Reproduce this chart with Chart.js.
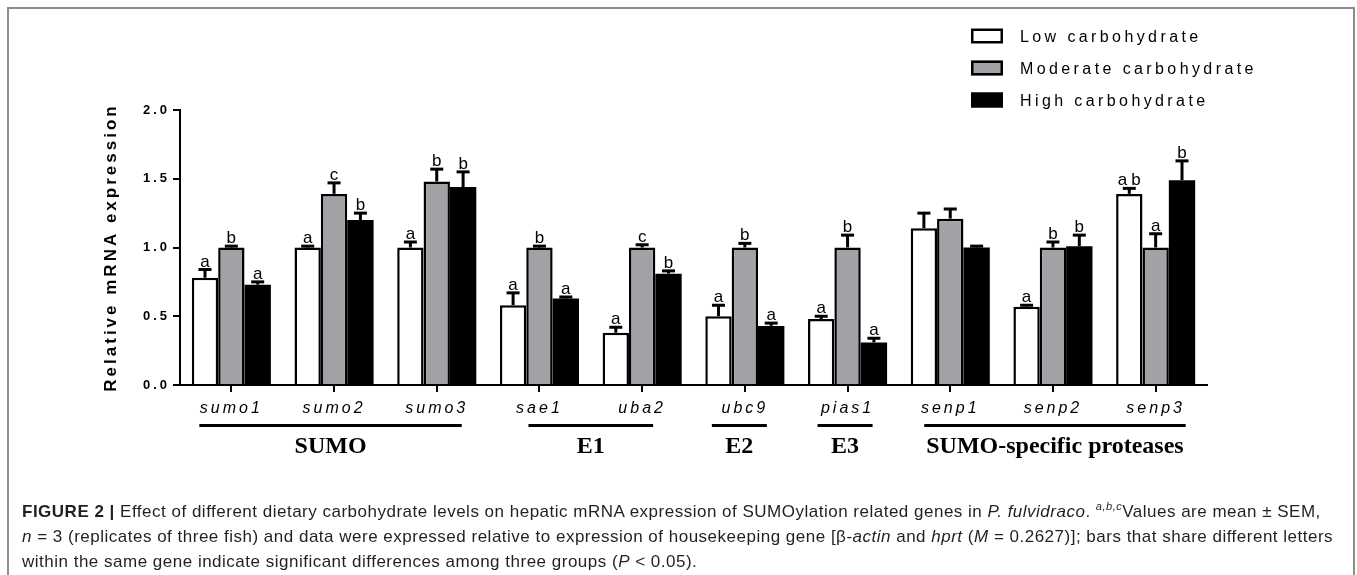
<!DOCTYPE html>
<html>
<head>
<meta charset="utf-8">
<script src="https://cdn.jsdelivr.net/npm/chart.js@4.4.1/dist/chart.umd.min.js"></script>
<style>
html, body { margin: 0; padding: 0; background: #fff; }
#wrap { position: relative; width: 1357px; height: 575px; overflow: hidden; }
#frame { position: absolute; left: 7px; top: 7px; width: 1348px; height: 620px; border: 2px solid #8c8c8c; box-sizing: border-box; }
#myChart { position: absolute; left: 0; top: 0; }
#legenda { position: absolute; left: 22px; top: 494px; font-family: "Liberation Sans", Arial, sans-serif; font-size: 17px; letter-spacing: 0.5px; line-height: 25px; color: #231f20; white-space: nowrap; }
</style>
</head>
<body>
<div id="wrap">
  <div id="frame"></div>
  <canvas id="myChart" width="1357" height="575"></canvas>
  <div id="legenda">
    <b>FIGURE 2 |</b> Effect of different dietary carbohydrate levels on hepatic mRNA expression of SUMOylation related genes in <i>P. fulvidraco</i>. <sup style="font-size:11px"><i>a,b,c</i></sup>Values are mean ± SEM,<br>
    <i>n</i> = 3 (replicates of three fish) and data were expressed relative to expression of housekeeping gene [β-<i>actin</i> and <i>hprt</i> (<i>M</i> = 0.2627)]; bars that share different letters<br>
    within the same gene indicate significant differences among three groups (<i>P</i> &lt; 0.05).
  </div>
</div>
<script>
const genes = ['sumo1', 'sumo2', 'sumo3', 'sae1', 'uba2', 'ubc9', 'pias1', 'senp1', 'senp2', 'senp3'];

// medias por grupo de dieta
const low = [0.78, 1.00, 1.00, 0.58, 0.38, 0.50, 0.48, 1.14, 0.57, 1.39];
const moderate = [1.00, 1.39, 1.48, 1.00, 1.00, 1.00, 1.00, 1.21, 1.00, 1.00];
const high = [0.73, 1.20, 1.44, 0.63, 0.81, 0.43, 0.31, 1.00, 1.01, 1.49];

// SEM (so a parte de cima)
const lowSem = [0.06, 0.01, 0.04, 0.09, 0.04, 0.08, 0.02, 0.11, 0.01, 0.04];
const moderateSem = [0.01, 0.08, 0.09, 0.01, 0.02, 0.03, 0.09, 0.07, 0.04, 0.10];
const highSem = [0.02, 0.05, 0.11, 0.01, 0.02, 0.02, 0.03, 0.01, 0.08, 0.14];

// letras de significancia
const lowLetters = ['a', 'a', 'a', 'a', 'a', 'a', 'a', '', 'a', 'ab'];
const moderateLetters = ['b', 'c', 'b', 'b', 'c', 'b', 'b', '', 'b', 'a'];
const highLetters = ['a', 'b', 'b', 'a', 'b', 'a', 'a', '', 'b', 'b'];

const yTicks = [0, 0.5, 1.0, 1.5, 2.0];

// grupos de genes (indice do primeiro e do ultimo gene)
const groupNames = ['SUMO', 'E1', 'E2', 'E3', 'SUMO-specific proteases'];
const groupFirst = [0, 3, 5, 6, 7];
const groupLast = [2, 4, 5, 6, 9];

// quanto a linha do grupo passa do centro do primeiro/ultimo gene (px)
const groupPad = [[32, 25], [11, 11], [33, 22], [30, 25], [26, 30]];

const sans = '"Liberation Sans", Arial, sans-serif';

const spacing = {
    id: 'spacing',
    beforeUpdate(chart) { chart.ctx.letterSpacing = '3px'; },
    beforeDraw(chart) { chart.ctx.letterSpacing = '3px'; },
    beforeDatasetsDraw(chart) { chart.ctx.letterSpacing = '0px'; }
};

const extras = {
    id: 'extras',
    afterDraw(chart) {
        const ctx = chart.ctx;
        const x = chart.scales.x;
        const y = chart.scales.y;
        ctx.save();
        ctx.letterSpacing = '0px';

        // barras de erro e letras
        chart.data.datasets.forEach((ds, i) => {
            chart.getDatasetMeta(i).data.forEach((bar, j) => {
                const top = y.getPixelForValue(ds.data[j]);
                const end = y.getPixelForValue(ds.data[j] + ds.sem[j]);
                ctx.strokeStyle = '#000';
                ctx.lineWidth = 3;
                ctx.beginPath();
                ctx.moveTo(bar.x, top);
                ctx.lineTo(bar.x, end);
                ctx.stroke();
                ctx.fillStyle = '#000';
                ctx.fillRect(bar.x - 6.5, end - 1.5, 13, 3);
                const letra = ds.letters[j];
                if (letra) {
                    ctx.font = '17px ' + sans;
                    ctx.textAlign = 'center';
                    ctx.textBaseline = 'alphabetic';
                    if (letra.length > 1) {
                        ctx.letterSpacing = '4px';
                        ctx.fillText(letra, bar.x + 2, end - 3);
                        ctx.letterSpacing = '0px';
                    } else {
                        ctx.fillText(letra, bar.x, end - 3);
                    }
                }
            });
        });

        // linhas e nomes dos grupos
        groupNames.forEach((name, g) => {
            const x0 = x.getPixelForTick(groupFirst[g]) - groupPad[g][0];
            const x1 = x.getPixelForTick(groupLast[g]) + groupPad[g][1];
            ctx.fillStyle = '#000';
            ctx.fillRect(x0, 424, x1 - x0, 3);
            ctx.font = 'bold 24px "Liberation Serif", "Times New Roman", serif';
            ctx.textAlign = 'center';
            ctx.textBaseline = 'middle';
            ctx.fillText(name, (x0 + x1) / 2, 447);
        });

        // legenda
        chart.data.datasets.forEach((ds, i) => {
            const cy = 36 + i * 32;
            ctx.fillStyle = ds.backgroundColor;
            ctx.fillRect(971, cy - 7.5, 32, 15);
            ctx.strokeStyle = '#000';
            ctx.lineWidth = 2.5;
            ctx.strokeRect(972.25, cy - 6.25, 29.5, 12.5);
            ctx.fillStyle = '#000';
            ctx.font = '16px ' + sans;
            ctx.textAlign = 'left';
            ctx.textBaseline = 'middle';
            ctx.letterSpacing = '3.4px';
            ctx.fillText(ds.label, 1020, cy + 1.5);
            ctx.letterSpacing = '0px';
        });

        ctx.restore();
    }
};

const data = {
    labels: genes,
    datasets: [
        { label: 'Low carbohydrate', data: low, sem: lowSem, letters: lowLetters, backgroundColor: '#ffffff', borderColor: '#000', borderWidth: 2.5 },
        { label: 'Moderate carbohydrate', data: moderate, sem: moderateSem, letters: moderateLetters, backgroundColor: '#a2a2a6', borderColor: '#000', borderWidth: 2.5 },
        { label: 'High carbohydrate', data: high, sem: highSem, letters: highLetters, backgroundColor: '#000000', borderColor: '#000', borderWidth: 0 }
    ]
};

const options = {
    responsive: false,
    animation: false,
    layout: { padding: { left: 101, top: 110, right: 150, bottom: 0 } },
    datasets: { bar: { categoryPercentage: 0.77, barPercentage: 1.0 } },
    plugins: { legend: { display: false }, tooltip: { enabled: false } },
    scales: {
        x: {
            grid: { drawOnChartArea: false, offset: false, tickLength: 7, color: '#000', lineWidth: 2 },
            border: { color: '#000', width: 2 },
            ticks: { color: '#000', padding: 7, font: { family: sans, size: 16, style: 'italic' }, maxRotation: 0 },
            afterFit: (s) => { s.height = 190; }
        },
        y: {
            min: 0,
            max: 2,
            afterBuildTicks: (s) => { s.ticks = yTicks.map(v => ({ value: v })); },
            grid: { drawOnChartArea: false, tickLength: 7, color: '#000', lineWidth: 2 },
            border: { color: '#000', width: 2 },
            ticks: { color: '#000', padding: 3, font: { family: sans, size: 13, weight: 'bold' }, callback: (v) => Number(v).toFixed(1) },
            title: { display: true, text: 'Relative mRNA expression', color: '#000', font: { family: sans, size: 17, weight: 'bold' }, padding: { top: 0, bottom: 0 } },
            afterFit: (s) => { s.width = 79; }
        }
    }
};

const config = { type: 'bar', data: data, options: options, plugins: [spacing, extras] };

const myChart = new Chart(document.getElementById('myChart'), config);
</script>
</body>
</html>
